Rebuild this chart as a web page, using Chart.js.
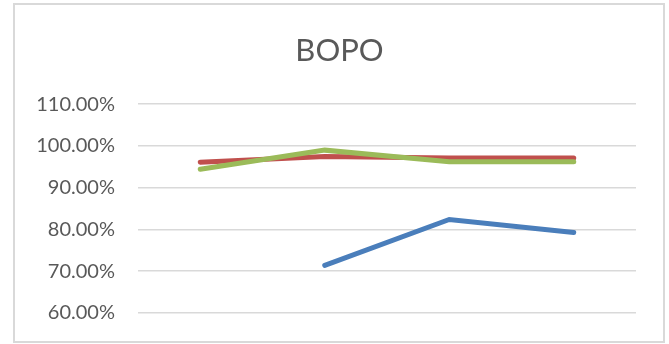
<!DOCTYPE html>
<html>
<head>
<meta charset="utf-8">
<script src="https://cdn.jsdelivr.net/npm/chart.js@4/dist/chart.umd.min.js"></script>
<style>
  html, body { margin: 0; padding: 0; background: #fff; }
  #wrap { position: relative; width: 669px; height: 344px; }
  #frame {
    position: absolute; left: 13px; top: 3px; width: 652px; height: 340px;
    border: 2px solid #d9d9d9; box-sizing: border-box; pointer-events: none;
  }
  canvas { position: absolute; left: 0; top: 0; }
</style>
</head>
<body>
<div id="wrap">
  <canvas id="chart" width="669" height="344"></canvas>
  <div id="frame"></div>
</div>
<script>
const categories = ["1", "2", "3", "4"];
const yTicks = [60, 70, 80, 90, 100, 110];

// values in percent
const seriesBlue = [null, 71.4, 82.4, 79.3];
const seriesRed = [96.1, 97.5, 97.1, 97.1];
const seriesGreen = [94.4, 99.0, 96.2, 96.2];

const lineStyle = (color) => ({
  borderColor: color,
  backgroundColor: color,
  borderWidth: 5,
  pointRadius: 0,
  tension: 0,
  fill: false,
  borderCapStyle: "round",
  spanGaps: false,
});

new Chart(document.getElementById("chart"), {
  type: "line",
  data: {
    labels: categories,
    datasets: [
      { label: "Blue", data: seriesBlue, order: 3, ...lineStyle("#4a7ebb") },
      { label: "Red", data: seriesRed, order: 2, ...lineStyle("#c0504d") },
      { label: "Green", data: seriesGreen, order: 1, ...lineStyle("#9bbb59") },
    ],
  },
  options: {
    responsive: false,
    animation: false,
    layout: { padding: { left: 10, right: 0, top: 0, bottom: 31 } },
    plugins: {
      legend: { display: false },
      tooltip: { enabled: false },
      title: {
        display: true,
        text: "BOPO",
        color: "#595959",
        font: { family: "Lato", size: 31, weight: "normal" },
        padding: { top: 32, bottom: 35 },
      },
    },
    scales: {
      x: {
        display: false,
        offset: true,
      },
      y: {
        min: yTicks[0],
        max: yTicks[yTicks.length - 1],
        afterBuildTicks: (axis) => { axis.ticks = yTicks.map((v) => ({ value: v })); },
        afterFit: (axis) => {
          axis.width = 128;
          axis.paddingTop = 0;
          axis.paddingBottom = 0;
        },
        grid: { color: "#d9d9d9", lineWidth: 1.5, drawTicks: false },
        border: { display: false },
        ticks: {
          padding: 23,
          color: "#595959",
          font: { family: "Lato", size: 20 },
          callback: (v) => v.toFixed(2) + "%",
        },
      },
      // empty right-hand axis, only keeps the plot off the right edge
      yRight: {
        position: "right",
        min: yTicks[0],
        max: yTicks[yTicks.length - 1],
        afterFit: (axis) => {
          axis.width = 33;
          axis.paddingTop = 0;
          axis.paddingBottom = 0;
        },
        grid: { display: false },
        border: { display: false },
        ticks: { display: false },
      },
    },
  },
});
</script>
</body>
</html>
